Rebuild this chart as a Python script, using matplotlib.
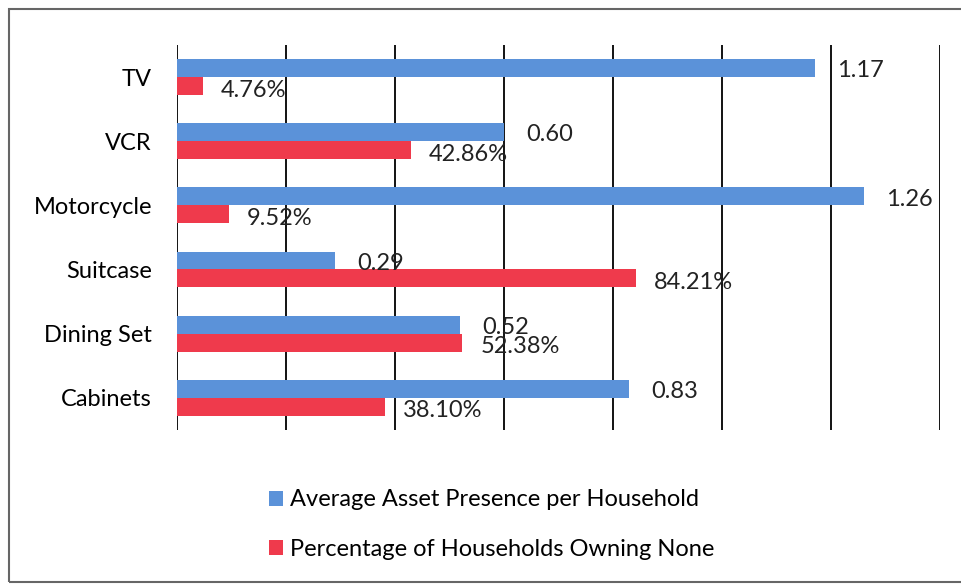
import matplotlib.pyplot as plt
import matplotlib.patches as mpatches
import numpy as np

plt.rcParams['font.family'] = ['Lato', 'DejaVu Sans']

# data
categories = ["TV", "VCR", "Motorcycle", "Suitcase", "Dining Set", "Cabinets"]
avg_presence = [1.17, 0.60, 1.26, 0.29, 0.52, 0.83]
pct_none = [4.76, 42.86, 9.52, 84.21, 52.38, 38.10]

blue = '#5b92d9'
red = '#ef3a4c'
fs = 17

fig = plt.figure(figsize=(9.62, 5.84), dpi=100)
ax = fig.add_axes([0.184, 0.264, 0.793, 0.659])

y = np.arange(len(categories))
h = 0.28
pct_frac = [p / 100 for p in pct_none]

b1 = ax.barh(y - h / 2, avg_presence, height=h, color=blue,
             label="Average Asset Presence per Household", zorder=2)
b2 = ax.barh(y + h / 2, pct_frac, height=h, color=red,
             label="Percentage of Households Owning None", zorder=2)

# value labels
for yi, v in zip(y, avg_presence):
    ax.annotate(f"{v:.2f}", (v, yi - h / 2), xytext=(16, -2), textcoords='offset points',
                va='center', ha='left', fontsize=fs, color='#222222', zorder=3)
for yi, v, p in zip(y, pct_frac, pct_none):
    ax.annotate(f"{p:.2f}%", (v, yi + h / 2), xytext=(13, -3), textcoords='offset points',
                va='center', ha='left', fontsize=fs, color='#222222', zorder=3)

ax.set_xlim(0, 1.4)
ax.set_ylim(5.5, -0.5)
ax.set_xticks(np.arange(0, 1.41, 0.2))
ax.set_xticklabels([])
ax.set_yticks(y)
ax.set_yticklabels(categories, fontsize=fs)
ax.tick_params(length=0, pad=18)
ax.xaxis.grid(True, color='black', linewidth=1.3, zorder=1)
for s in ax.spines.values():
    s.set_visible(False)

fig.legend(handles=[b1, b2], loc='upper left', bbox_to_anchor=(0.27, 0.178),
           frameon=False, fontsize=fs, handlelength=0.6, handleheight=0.6,
           handletextpad=0.3, labelspacing=1.2, borderaxespad=0)

# outer frame of the chart
fig.patches.append(mpatches.Rectangle((0.009, 0.004), 1.2, 0.98, transform=fig.transFigure,
                                      fill=False, edgecolor='#666666', linewidth=1.5))

fig.savefig("out.png", dpi=100)
